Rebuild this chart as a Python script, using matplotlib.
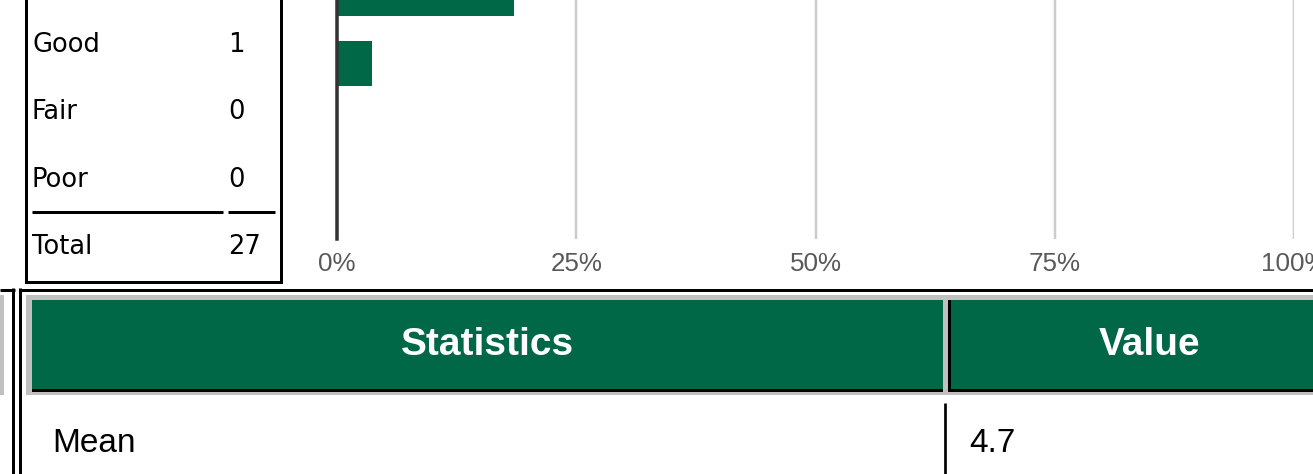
import matplotlib
matplotlib.use("Agg")
import matplotlib.pyplot as plt
from matplotlib.patches import Rectangle
import numpy as np

MSU_GREEN = "#006747"
BORDER_GRAY = "#c0c0c0"
GRID_GRAY = "#cccccc"
AXIS_DARK = "#333333"
TICK_GRAY = "#595959"

# survey answers and their counts
ratings = ["Excellent", "Very Good", "Good", "Fair", "Poor"]
counts = [21, 5, 1, 0, 0]
total_label = "Total"

# summary statistics table
stat_header = ["Statistics", "Value"]
stat_names = ["Mean"]
stat_values = ["4.7"]

pct_ticks = [0, 25, 50, 75, 100]

W, H = 1313, 474
DPI = 100
PX = 0.72  # points per pixel at this dpi

total = sum(counts)
pct = [100.0 * c / total for c in counts]

fig = plt.figure(figsize=(W / DPI, H / DPI), dpi=DPI)
fig.patch.set_facecolor("white")


def fig_box(x0, y0, x1, y1):
    # pixel box (top-left origin) -> figure fraction rect
    return [x0 / W, 1 - y1 / H, (x1 - x0) / W, (y1 - y0) / H]


# ---- horizontal bar chart ----
ax = fig.add_axes(fig_box(337, 0, 1294, 239))
idx = np.arange(len(ratings))
ax.barh(idx, pct, height=0.643, color=MSU_GREEN, zorder=3)
ax.set_xlim(0, 100)
# only the lower part of the chart is in view
ax.set_ylim(4.507, 1.093)
ax.set_xticks(pct_ticks)
ax.set_xticklabels([f"{t}%" for t in pct_ticks])
ax.set_yticks([])
ax.tick_params(axis="x", length=0, pad=9.5, labelsize=26 * PX, labelcolor=TICK_GRAY)
for lab in ax.get_xticklabels():
    lab.set_family("Liberation Sans")
ax.grid(axis="x", color=GRID_GRAY, linewidth=2.5 * PX, zorder=1)
for side in ["top", "right", "bottom"]:
    ax.spines[side].set_visible(False)
ax.spines["left"].set_color(AXIS_DARK)
ax.spines["left"].set_linewidth(3.5 * PX)
ax.spines["left"].set_zorder(4)
ax.patch.set_visible(False)

# ---- table overlay drawn in pixel space ----
ov = fig.add_axes([0, 0, 1, 1])
ov.set_xlim(0, W)
ov.set_ylim(H, 0)
ov.axis("off")
ov.patch.set_visible(False)

lw3 = 3 * PX

# frequency table on the left (upper rows scrolled out of view)
ov.add_patch(Rectangle((25.5, -10), 255.5, 291.5, fill=False,
                       edgecolor="black", linewidth=lw3))
row_pitch = 67.3
row_base_good = 52
for i, (name, n) in enumerate(zip(ratings, counts)):
    yb = row_base_good + (i - 2) * row_pitch
    if yb < 30:
        continue
    ov.text(32, yb, name, fontsize=18.5, family="DejaVu Sans",
            va="baseline", ha="left", color="black")
    ov.text(228, yb, str(n), fontsize=18.5, family="DejaVu Sans",
            va="baseline", ha="left", color="black")
ov.plot([32, 223], [211.5, 211.5], color="black", lw=lw3, solid_capstyle="butt")
ov.plot([228, 275], [211.5, 211.5], color="black", lw=lw3, solid_capstyle="butt")
ov.text(32, 254, total_label, fontsize=18.5, family="DejaVu Sans",
        va="baseline", ha="left", color="black")
ov.text(228, 254, str(total), fontsize=18.5, family="DejaVu Sans",
        va="baseline", ha="left", color="black")

# neighbouring panel edge at far left
ov.add_patch(Rectangle((0, 295), 4, 100, color=BORDER_GRAY, lw=0))
ov.plot([0, 14.5], [289.5, 289.5], color="black", lw=lw3, solid_capstyle="butt")
ov.plot([13, 13], [288, H + 5], color="black", lw=lw3, solid_capstyle="butt")

# statistics table frame
ov.plot([18.5, W + 5], [289.5, 289.5], color="black", lw=lw3, solid_capstyle="butt")
ov.plot([20, 20], [288, H + 5], color="black", lw=lw3, solid_capstyle="butt")

# header band
ov.add_patch(Rectangle((26, 295), W - 26 + 5, 100, color=BORDER_GRAY, lw=0))
ov.add_patch(Rectangle((32, 300), 943 - 32, 91.5, color="black", lw=0))
ov.add_patch(Rectangle((32, 300), 943 - 32, 89, color=MSU_GREEN, lw=0))
ov.add_patch(Rectangle((948, 300), W - 948 + 5, 91.5, color="black", lw=0))
ov.add_patch(Rectangle((951, 300), W - 951 + 5, 89, color=MSU_GREEN, lw=0))
ov.text(487.5, 345, stat_header[0], fontsize=28, family="Liberation Sans",
        fontweight="bold", color="white", ha="center", va="center")
ov.text(1150, 345, stat_header[1], fontsize=28, family="Liberation Sans",
        fontweight="bold", color="white", ha="center", va="center")

# body rows
ov.plot([945.3, 945.3], [403, H + 5], color="black", lw=2.7 * PX, solid_capstyle="butt")
for i, (nm, val) in enumerate(zip(stat_names, stat_values)):
    yb = 451.7 + i * 80
    ov.text(52, yb, nm, fontsize=24, family="Liberation Sans",
            va="baseline", ha="left", color="black")
    ov.text(969, yb, val, fontsize=24, family="Liberation Sans",
            va="baseline", ha="left", color="black")

fig.savefig("out.png", dpi=DPI)
